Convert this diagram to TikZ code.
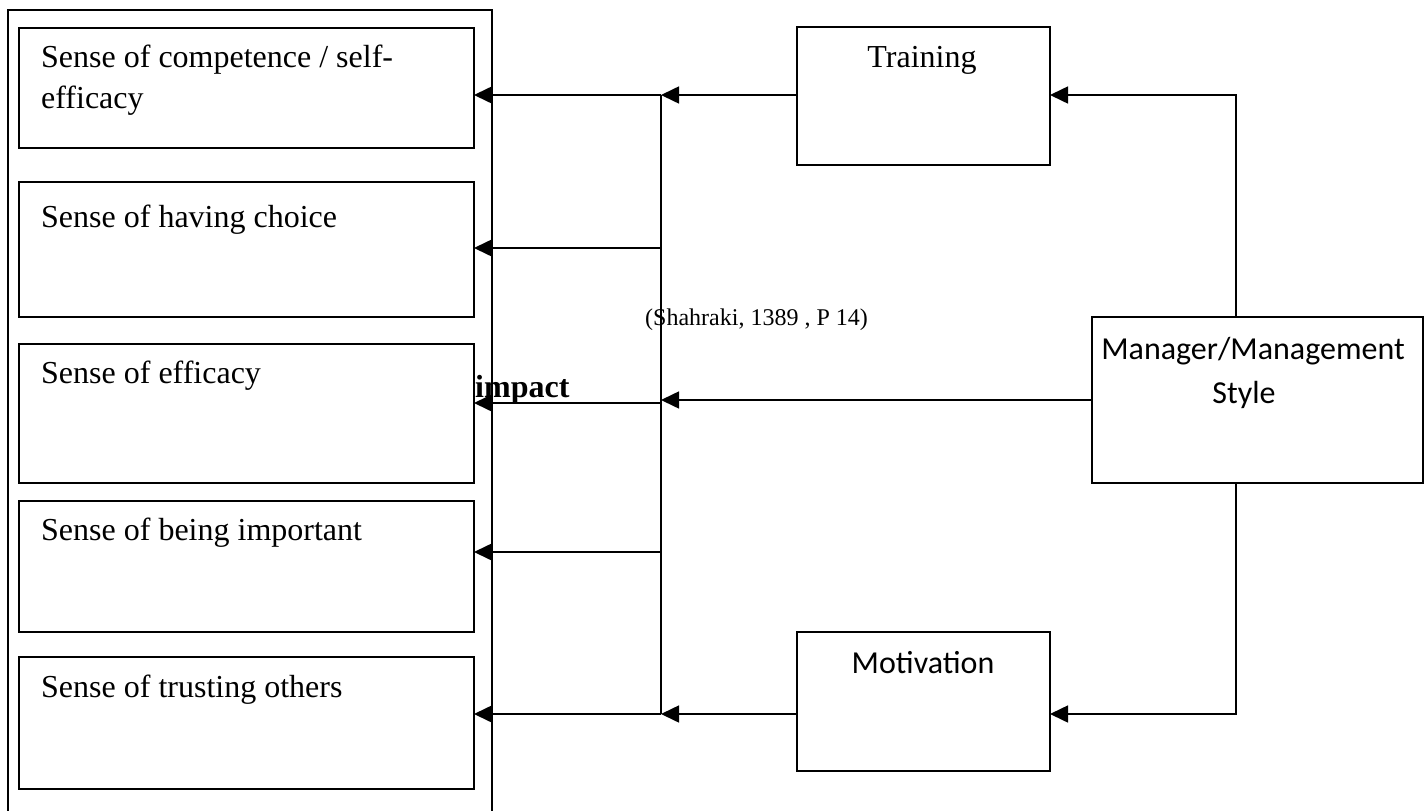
\documentclass[tikz,border=0pt]{standalone}
\usepackage{fontspec}
\setmainfont{Liberation Serif}
\newfontfamily\sansf{Carlito}
\usetikzlibrary{arrows.meta}
\begin{document}
\begin{tikzpicture}[x=1pt,y=-1pt,
  box/.style={draw,line width=1.6pt,inner sep=0pt,outer sep=0pt,anchor=north west},
  lbl/.style={inner sep=0pt,anchor=base west,font=\fontsize{32}{41}\selectfont},
  slbl/.style={inner sep=0pt,anchor=base,font=\sansf\fontsize{32}{41}\selectfont},
  ln/.style={line width=1.6pt},
  arr/.style={line width=1.6pt,-{Triangle[length=18pt,width=17pt]}}]
\useasboundingbox (0,0) rectangle (1424,811);
% outer frame (open at bottom)
\coordinate (o1) at (8,811);
\coordinate (o2) at (8,10);
\coordinate (o3) at (492,10);
\coordinate (o4) at (492,811);
\draw[ln] (o1) -- (o2) -- (o3) -- (o4);
% left boxes
\node[box,minimum width=455pt,minimum height=120pt] (b1) at (19,28) {};
\node[box,minimum width=455pt,minimum height=135pt] (b2) at (19,182) {};
\node[box,minimum width=455pt,minimum height=139pt] (b3) at (19,344) {};
\node[box,minimum width=455pt,minimum height=131pt] (b4) at (19,501) {};
\node[box,minimum width=455pt,minimum height=132pt] (b5) at (19,657) {};
\node[lbl] (t1a) at (41,67) {Sense of competence / self-};
\node[lbl] (t1b) at (41,108) {efficacy};
\node[lbl] (t2) at (41,227) {Sense of having choice};
\node[lbl] (t3) at (41,383) {Sense of efficacy};
\node[lbl] (t4) at (41,540) {Sense of being important};
\node[lbl] (t5) at (41,697) {Sense of trusting others};
% right boxes
\node[box,minimum width=253pt,minimum height=138pt] (tr) at (797,27) {};
\node[box,minimum width=331pt,minimum height=166pt] (mg) at (1092,317) {};
\node[box,minimum width=253pt,minimum height=139pt] (mo) at (797,632) {};
\node[inner sep=0pt,anchor=base,font=\fontsize{32}{41}\selectfont] (trt) at (922,67) {Training};
\node[slbl] (mgt1) at (1253,359) {Manager/Management};
\node[slbl] (mgt2) at (1244,403) {Style};
\node[slbl] (mot) at (923,673) {Motivation};
% bus
\coordinate (c1) at (661,95);
\coordinate (c2) at (661,248);
\coordinate (c3) at (661,403);
\coordinate (c4) at (661,552);
\coordinate (c5) at (661,714);
\coordinate (mx) at (1236,0);
\draw[ln] (c1) -- (c5);
\draw[arr] (c1) -- (c1 -| b1.east);
\draw[arr] (c2) -- (c2 -| b2.east);
\draw[arr] (c3) -- (c3 -| b3.east);
\draw[arr] (c4) -- (c4 -| b4.east);
\draw[arr] (c5) -- (c5 -| b5.east);
\draw[arr] (tr.west |- c1) -- (c1);
\draw[arr] (mg.west) -- (mg.west -| c1);
\draw[arr] (mo.west |- c5) -- (c5);
\draw[arr] (mx |- mg.north) |- (tr.east |- c1);
\draw[arr] (mx |- mg.south) |- (mo.east |- c5);
% texts
\node[inner sep=0pt,anchor=base west,font=\bfseries\fontsize{32}{41}\selectfont] (imp) at (475,397) {impact};
\node[inner sep=0pt,anchor=base west,font=\fontsize{24}{29}\selectfont] (cit) at (645,325) {(Shahraki, 1389 , P 14)};
\end{tikzpicture}
\end{document}
